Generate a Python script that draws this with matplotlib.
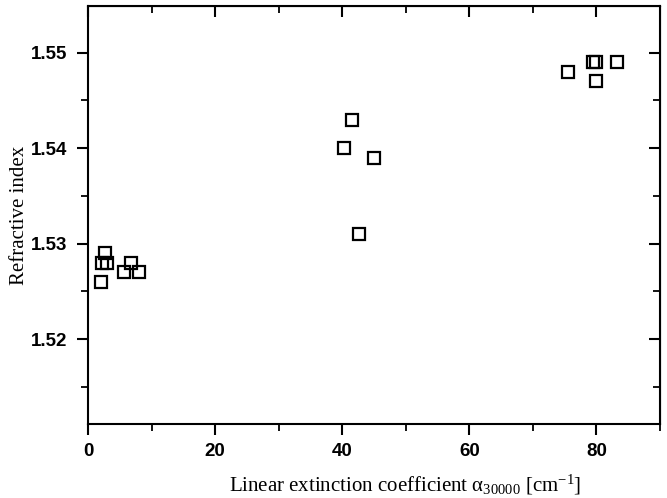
import matplotlib
matplotlib.use("Agg")
import matplotlib.pyplot as plt
from matplotlib.ticker import MultipleLocator, FormatStrFormatter

plt.rcParams['mathtext.fontset'] = 'custom'
plt.rcParams['mathtext.rm'] = 'Liberation Serif'
plt.rcParams['mathtext.it'] = 'Liberation Serif:italic'

alpha = [2.2, 2.7, 3.0, 2.0, 5.7, 6.7, 8.0,
         41.5, 40.3, 45.0, 42.6,
         75.5, 79.4, 80.0, 83.2, 80.0]
n_index = [1.528, 1.529, 1.528, 1.526, 1.527, 1.528, 1.527,
           1.543, 1.540, 1.539, 1.531,
           1.548, 1.549, 1.549, 1.549, 1.547]

x_ticks = [0, 20, 40, 60, 80]
y_ticks = [1.52, 1.53, 1.54, 1.55]

fig = plt.figure(figsize=(6.67, 4.98), dpi=100)
ax = fig.add_axes([88/667, 1-424/498, (660-88)/667, (424-6)/498])

ax.plot(alpha, n_index, linestyle='none', marker='s', markersize=9.2,
        markerfacecolor='none', markeredgecolor='black', markeredgewidth=1.6)

ax.set_xlim(0, 90)
ax.set_ylim(1.5111, 1.5549)
ax.set_xticks(x_ticks)
ax.set_yticks(y_ticks)
ax.xaxis.set_minor_locator(MultipleLocator(10))
ax.yaxis.set_minor_locator(MultipleLocator(0.005))
ax.yaxis.set_major_formatter(FormatStrFormatter('%.2f'))

for s in ax.spines.values():
    s.set_linewidth(1.5)

ax.tick_params(axis='both', which='major', direction='out', length=8, width=1.5,
               labelsize=13.5, pad=6)
ax.tick_params(axis='y', which='major', pad=7)
ax.tick_params(axis='both', which='minor', direction='out', length=5, width=1.3)
for lab in ax.get_xticklabels() + ax.get_yticklabels():
    lab.set_fontfamily('Liberation Sans')
    lab.set_fontweight('bold')

# mirrored inward ticks on top/right
axt = ax.secondary_xaxis('top')
axt.set_xticks(x_ticks)
axt.tick_params(direction='in', length=8, width=1.5, labeltop=False)
axt.xaxis.set_minor_locator(MultipleLocator(10))
axt.tick_params(which='minor', direction='in', length=5, width=1.3)
axr = ax.secondary_yaxis('right')
axr.set_yticks(y_ticks)
axr.tick_params(direction='in', length=8, width=1.5, labelright=False)
axr.yaxis.set_minor_locator(MultipleLocator(0.005))
axr.tick_params(which='minor', direction='in', length=5, width=1.3)

fig.text(405/667, 1-485/498,
         r'Linear extinction coefficient α$_{30000}$ [cm$^{-1}$]',
         fontfamily='Liberation Serif', fontsize=15, ha='center', va='center')
fig.text(20/667, 1-215/498, 'Refractive index', fontfamily='Liberation Serif',
         fontsize=15, ha='center', va='center', rotation=90)

fig.savefig('out.png', dpi=100)
